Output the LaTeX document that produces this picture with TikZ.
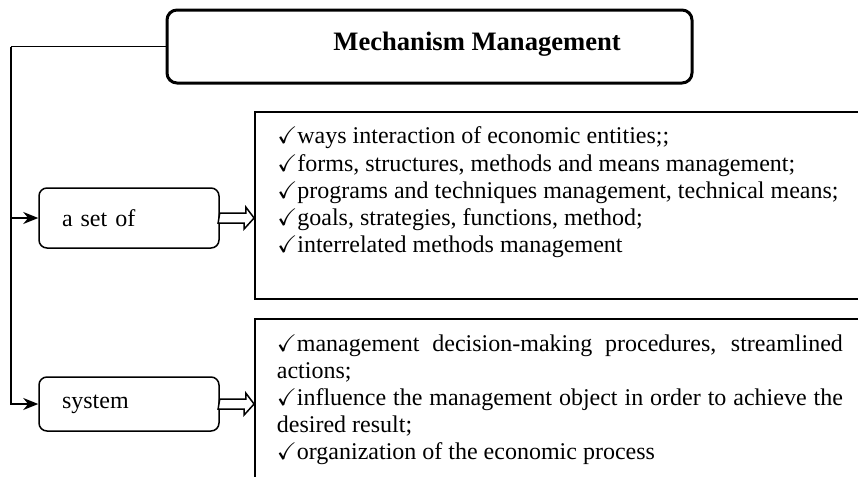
\documentclass[tikz,border=0pt]{standalone}
\usepackage{fontspec}
\setmainfont{Liberation Serif}
\usepackage{amssymb}
\usetikzlibrary{arrows.meta,positioning}

\tikzset{
  headbox/.style={draw, line width=1.5pt, rounded corners=5pt, minimum width=262.5pt, minimum height=36.5pt},
  kindbox/.style={draw, line width=0.75pt, rounded corners=4pt, minimum width=90pt, text width=67pt, inner xsep=11.5pt, align=left, font=\fontsize{12}{13.6}\selectfont},
  listbox/.style={draw, line width=0.9pt, minimum width=312.5pt, inner sep=0pt},
  itemtext/.style={anchor=north west, inner sep=0pt, font=\fontsize{12}{13.6}\selectfont},
  link/.style={line width=0.8pt},
  tip/.style={-{Stealth[length=7.5pt,width=6pt]}},
  hollow/.style={line width=0.75pt, fill=white},
}

\begin{document}
\begin{tikzpicture}[x=0.5pt,y=-0.5pt]
    \useasboundingbox (0,0) rectangle (858,477);
    \clip (0,0) rectangle (858,477);
    % head
    \node[headbox] (head) at (429.5,46.5) {};
    \node[anchor=base west, inner sep=0pt, font=\bfseries\fontsize{13.3}{16}\selectfont] (title) at (333,50) {Mechanism Management};
    % left column
    \node[kindbox, minimum height=30pt] (set) at (129,218) {a set of};
    \node[kindbox, minimum height=27pt] (sys) at (129,404) {system};
    % right column
    \node[listbox, minimum height=93.5pt] (list1) at (567.5,205.5) {};
    \node[listbox, minimum height=90.5pt] (list2) at (567.5,409.5) {};
    \node[itemtext, align=left] (items1) at (277,126.5) {$\checkmark$ways interaction of economic entities;;\\
      $\checkmark$forms, structures, methods and means management;\\
      $\checkmark$programs and techniques management, technical means;\\
      $\checkmark$goals, strategies, functions, method;\\
      $\checkmark$interrelated methods management};
    \node[itemtext, text width=283pt, align=justify] (items2) at (276.5,334) {$\checkmark$management decision-making procedures, streamlined\linebreak actions;\par
      $\checkmark$influence the management object in order to achieve the\linebreak desired result;\par
      $\checkmark$organization of the economic process};
    % connectors
    \coordinate (corner) at (11,46.5);
    \draw[link] (head.west) -- (corner);
    \draw[link,tip] (corner) |- (set.west);
    \draw[link,tip] (corner) |- (sys.west);
    \draw[hollow] ([yshift=2.5pt]set.east) -- ++(26,0) -- ++(0,-6) -- (set.east -| list1.west) -- ++(-10,11) -- ++(0,-6) -- ++(-26,0) -- cycle;
    \draw[hollow] ([yshift=2.5pt]sys.east) -- ++(26,0) -- ++(0,-6) -- (sys.east -| list2.west) -- ++(-10,11) -- ++(0,-6) -- ++(-26,0) -- cycle;
\end{tikzpicture}
\end{document}
